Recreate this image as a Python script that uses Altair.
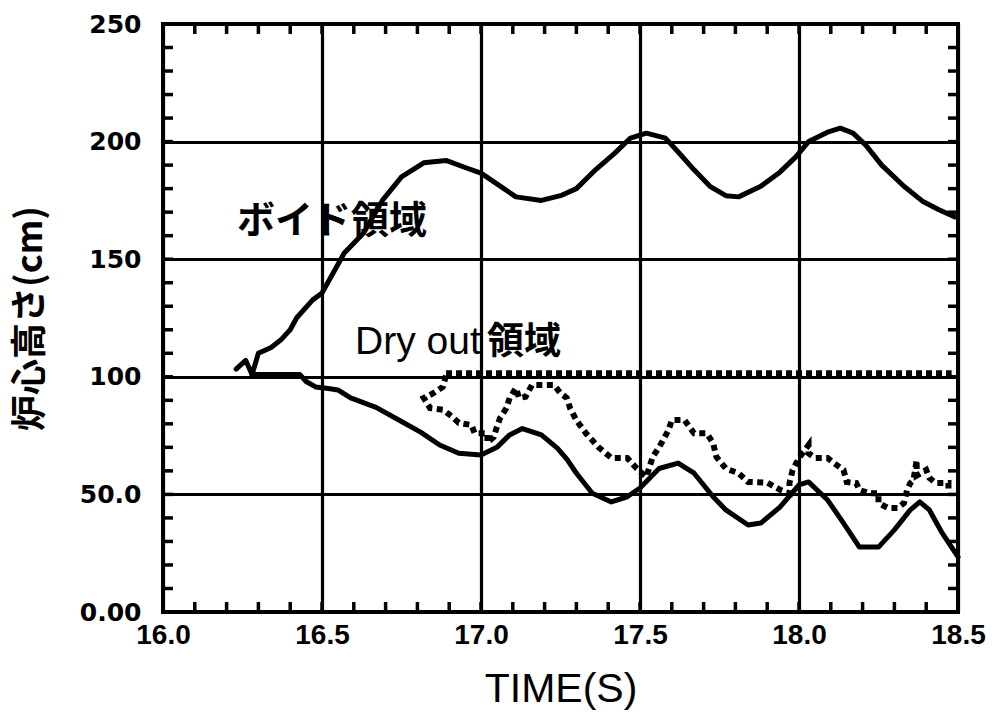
import altair as alt
import pandas as pd
import numpy as np

# ---------------- data ----------------
void_upper_t = [16.23, 16.26, 16.28, 16.30, 16.34, 16.37, 16.40, 16.42, 16.47, 16.50,
                16.57, 16.63, 16.69, 16.75, 16.82, 16.89, 16.95, 17.00, 17.05, 17.11,
                17.19, 17.25, 17.30, 17.36, 17.42, 17.47, 17.52, 17.58, 17.62, 17.67,
                17.72, 17.77, 17.81, 17.88, 17.94, 17.99, 18.03, 18.09, 18.13, 18.17,
                18.21, 18.26, 18.33, 18.39, 18.44, 18.49]
void_upper_h = [103.3, 107.0, 101.0, 110.0, 112.5, 115.6, 120.0, 125.0, 132.6, 135.6,
                152.6, 161.0, 175.0, 185.0, 191.0, 192.0, 189.0, 186.6, 182.0, 176.5,
                175.0, 177.0, 180.0, 188.0, 195.0, 201.5, 203.6, 201.5, 195.6, 188.0,
                181.0, 177.0, 176.5, 181.0, 187.0, 193.5, 200.0, 204.0, 205.7, 203.6,
                198.5, 190.0, 181.0, 174.5, 171.0, 168.0]

void_lower_t = [16.28, 16.43, 16.45, 16.48, 16.52, 16.55, 16.59, 16.67, 16.75, 16.81,
                16.87, 16.93, 17.00, 17.05, 17.09, 17.13, 17.19, 17.24, 17.27, 17.30,
                17.35, 17.41, 17.46, 17.50, 17.56, 17.62, 17.67, 17.73, 17.77, 17.84,
                17.88, 17.94, 18.00, 18.03, 18.09, 18.14, 18.19, 18.25, 18.30, 18.35,
                18.38, 18.41, 18.45, 18.50]
void_lower_h = [101.0, 101.0, 98.0, 95.7, 95.0, 94.4, 91.0, 87.0, 81.0, 76.5,
                71.0, 67.5, 66.8, 70.0, 75.3, 78.0, 75.3, 69.7, 65.0, 59.0,
                50.5, 46.8, 49.0, 52.7, 61.0, 63.3, 59.0, 49.0, 43.4, 37.0,
                37.8, 44.6, 54.0, 55.3, 47.6, 37.8, 27.6, 27.6, 34.9, 43.4,
                46.8, 43.4, 33.6, 23.4]

dry_upper_t = [16.89, 18.48]
dry_upper_h = [101.5, 101.5]

dry_lower_t = [16.89, 16.88, 16.85, 16.82, 16.84, 16.88, 16.91, 16.93, 16.97, 16.98,
               17.02, 17.02, 17.04, 17.05, 17.06, 17.08, 17.09, 17.11, 17.12, 17.14,
               17.16, 17.19, 17.23, 17.25, 17.27, 17.28, 17.30, 17.33, 17.37, 17.41,
               17.46, 17.49, 17.52, 17.54, 17.56, 17.59, 17.60, 17.64, 17.67, 17.71,
               17.73, 17.74, 17.77, 17.81, 17.84, 17.90, 17.94, 17.97, 17.97, 17.98,
               18.00, 18.03, 18.03, 18.05, 18.09, 18.11, 18.14, 18.15, 18.18, 18.19,
               18.22, 18.25, 18.25, 18.28, 18.31, 18.33, 18.34, 18.35, 18.36, 18.37,
               18.37, 18.40, 18.41, 18.43, 18.47, 18.47]
dry_lower_h = [100.5, 95.7, 93.0, 91.0, 86.7, 86.0, 83.0, 80.4, 79.5, 76.0,
               76.0, 72.0, 74.4, 78.7, 82.5, 86.7, 91.0, 95.2, 91.0, 91.5,
               96.5, 96.5, 96.5, 93.0, 91.0, 86.7, 81.5, 76.0, 70.0, 65.5,
               65.5, 61.0, 57.4, 66.0, 70.0, 77.4, 81.6, 81.6, 76.0, 76.0,
               71.8, 66.0, 61.0, 59.0, 55.3, 55.0, 52.0, 50.5, 54.8, 60.4,
               65.5, 71.0, 67.5, 65.5, 65.5, 63.3, 60.4, 55.3, 54.8, 51.9,
               50.5, 50.5, 46.3, 44.2, 44.2, 46.3, 51.9, 54.8, 56.0, 64.6,
               58.0, 60.4, 57.0, 54.8, 54.8, 51.9]

x_ticks = [16.0, 16.5, 17.0, 17.5, 18.0, 18.5]
x_tick_labels = ["16.0", "16.5", "17.0", "17.5", "18.0", "18.5"]
y_ticks = [0, 50, 100, 150, 200, 250]
y_tick_labels = ["0.00", "50.0", "100", "150", "200", "250"]
x_minor = [round(16.0 + 0.1 * k, 1) for k in range(26)]
y_minor = [10 * k for k in range(26)]

label_void = "ボイド領域"
label_dry1 = "Dry out"
label_dry2 = "領域"
label_pos_t = [16.233, 16.604, 17.019]
label_pos_h = [166.0, 109.5, 109.5]

# ---------------- tables ----------------
def series(t, h):
    return pd.DataFrame({"t": t, "h": h, "i": range(len(t))})

df_vu = series(void_upper_t, void_upper_h)
df_vl = series(void_lower_t, void_lower_h)
df_du = series(dry_upper_t, dry_upper_h)
df_dl = series(dry_lower_t, dry_lower_h)

W, H = 795, 588
SANS = "Liberation Sans, Arial, sans-serif"
JP = "Noto Sans CJK JP"

xs = alt.Scale(domain=[16.0, 18.5], nice=False, zero=False)
ys = alt.Scale(domain=[0, 250], nice=False, zero=False)

def label_expr(vals, labs):
    parts = " : ".join(f"abs(datum.value - {v}) < 0.001 ? '{l}'" for v, l in zip(vals, labs))
    return parts + " : ''"

x_axis = alt.Axis(values=x_ticks, labelExpr=label_expr(x_ticks, x_tick_labels),
                  title="TIME(S)", grid=True, ticks=False, domain=False,
                  labelFont=SANS, labelFontSize=28, labelColor="black",
                  labelPadding=9, labelFontWeight="bold", labelFlush=False,
                  labelOverlap=False,
                  titleFont=SANS, titleFontSize=41, titleFontWeight="normal",
                  titleColor="black", titlePadding=20)
y_axis = alt.Axis(values=y_ticks, labelExpr=label_expr(y_ticks, y_tick_labels),
                  title="炉心高さ(cm)", grid=True, ticks=False, domain=False,
                  labelFont="DejaVu Sans", labelFontSize=25, labelFontWeight="bold",
                  labelColor="black", labelPadding=22, labelFlush=False,
                  labelOverlap=False,
                  titleFont=JP, titleFontSize=36, titleFontWeight="bold",
                  titleColor="black", titlePadding=30)

base_x = alt.X("t:Q", scale=xs, axis=x_axis)
base_y = alt.Y("h:Q", scale=ys, axis=y_axis)
px = alt.X("t:Q", scale=xs)
py = alt.Y("h:Q", scale=ys)

line_style = dict(color="black", strokeWidth=5, strokeJoin="round", strokeCap="round")
void_up = alt.Chart(df_vu).mark_line(**line_style).encode(x=base_x, y=base_y, order="i:Q")
void_lo = alt.Chart(df_vl).mark_line(**line_style).encode(x=px, y=py, order="i:Q")

dry_top = alt.Chart(df_du).mark_line(color="black", strokeWidth=6, strokeDash=[6, 4]).encode(
    x=px, y=py, order="i:Q")
dry_low = alt.Chart(df_dl).mark_line(color="black", strokeWidth=6, strokeDash=[6, 4.5]).encode(
    x=px, y=py, order="i:Q")

# inner minor ticks
df_xm = pd.DataFrame({"t": x_minor})
df_ym = pd.DataFrame({"h": y_minor})
tick_style = dict(color="black", strokeWidth=3.5)
ticks_top = alt.Chart(df_xm).mark_rule(**tick_style).encode(
    x=px, y=alt.value(0), y2=alt.value(10))
ticks_bot = alt.Chart(df_xm).mark_rule(**tick_style).encode(
    x=px, y=alt.value(H - 10), y2=alt.value(H))
ticks_left = alt.Chart(df_ym).mark_rule(**tick_style).encode(
    y=py, x=alt.value(0), x2=alt.value(10))
ticks_right = alt.Chart(df_ym).mark_rule(**tick_style).encode(
    y=py, x=alt.value(W - 10), x2=alt.value(W))

# annotations
df_lab = pd.DataFrame({"t": label_pos_t, "h": label_pos_h,
                       "txt": [label_void, label_dry1, label_dry2]})
txt_void = alt.Chart(df_lab.iloc[[0]]).mark_text(
    align="left", baseline="middle", font=JP, fontSize=38, fontWeight="bold", color="black"
).encode(x=px, y=py, text="txt:N")
txt_dry1 = alt.Chart(df_lab.iloc[[1]]).mark_text(
    align="left", baseline="alphabetic", font=SANS,
    fontSize=39, fontWeight="normal", color="black"
).encode(x=px, y=py, text="txt:N")
txt_dry2 = alt.Chart(df_lab.iloc[[2]]).mark_text(
    align="left", baseline="alphabetic", font=JP, fontSize=37, fontWeight="bold", color="black"
).encode(x=px, y=py, text="txt:N")

chart = alt.layer(
    void_up, void_lo, dry_top, dry_low,
    ticks_top, ticks_bot, ticks_left, ticks_right,
    txt_void, txt_dry1, txt_dry2,
).properties(
    width=W, height=H,
    autosize=alt.AutoSizeParams(type="none"),
    padding={"left": 163, "top": 24, "right": 38, "bottom": 108},
    background="white",
).configure_view(
    stroke="black", strokeWidth=4
).configure_axis(
    gridColor="black", gridWidth=3.2, gridOpacity=1
)

chart.save("out.html", embed_options={"renderer": "svg", "actions": False})
